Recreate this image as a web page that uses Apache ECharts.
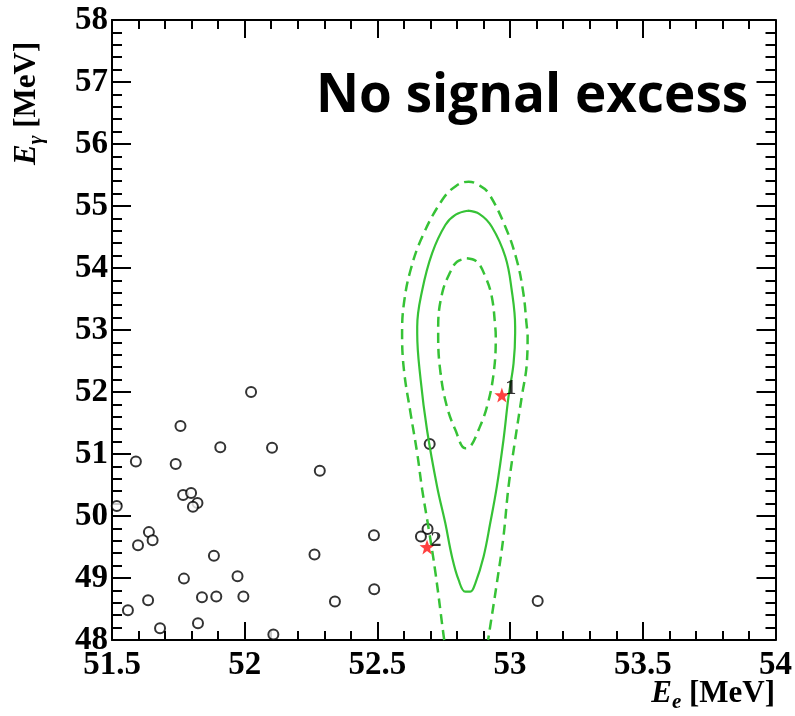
<!DOCTYPE html>
<html>
<head>
<meta charset="utf-8">
<script src="https://cdn.jsdelivr.net/npm/echarts@6/dist/echarts.min.js"></script>
<style>
  html, body { margin: 0; padding: 0; background: #fff; }
  #box { width: 795px; height: 716px; }
</style>
</head>
<body>
<div id="box"></div>
<script>
// 背景事例 (E_e, E_gamma) [MeV]
const eventEe = [52.024, 51.758, 51.908, 52.103, 51.590, 51.740, 52.283, 51.768, 51.798, 51.822,
                 51.805, 51.518, 51.639, 51.653, 51.598, 52.487, 51.884, 52.263, 51.771, 51.973,
                 51.636, 51.839, 51.893, 51.995, 52.488, 52.340, 51.560, 51.824, 51.681, 52.108,
                 52.697, 52.689, 52.664, 53.104];
const eventEg = [52.00, 51.45, 51.11, 51.10, 50.88, 50.84, 50.73, 50.34, 50.37, 50.21,
                 50.15, 50.16, 49.74, 49.61, 49.53, 49.69, 49.36, 49.38, 48.99, 49.03,
                 48.64, 48.69, 48.70, 48.70, 48.82, 48.62, 48.48, 48.27, 48.19, 48.09,
                 51.16, 49.79, 49.67, 48.63];

// 排名事例 (红星)
const rankLabels = ['1', '2'];
const rankEe = [52.969, 52.687];
const rankEg = [51.95, 49.50];

// 信号区域等高线
const solidContour = [
  [52.840, 54.924], [52.885, 54.870], [52.931, 54.666], [52.982, 54.182], [53.006, 53.645],
  [53.019, 53.053], [53.019, 52.947], [53.013, 52.463], [52.994, 51.924], [52.975, 51.226],
  [52.950, 50.473], [52.925, 49.882], [52.900, 49.344], [52.869, 48.915], [52.850, 48.779],
  [52.831, 48.779], [52.806, 48.968], [52.781, 49.344], [52.756, 49.882], [52.725, 50.473],
  [52.687, 51.387], [52.663, 52.194], [52.650, 52.947], [52.650, 53.053], [52.669, 53.645],
  [52.706, 54.237], [52.756, 54.694], [52.795, 54.860], [52.840, 54.924]
];
const outerContour = [
  [52.752, 48.00], [52.750, 48.053], [52.719, 49.076], [52.694, 49.774], [52.669, 50.419],
  [52.650, 51.011], [52.625, 51.656], [52.600, 52.355], [52.593, 52.947], [52.600, 53.431],
  [52.625, 53.968], [52.669, 54.505], [52.744, 55.097], [52.795, 55.320], [52.844, 55.392],
  [52.885, 55.330], [52.919, 55.205], [52.982, 54.666], [53.025, 54.129], [53.050, 53.592],
  [53.063, 53.053], [53.066, 52.947], [53.063, 52.463], [53.044, 51.924], [53.019, 51.226],
  [52.994, 50.473], [52.975, 49.666], [52.950, 48.915], [52.919, 48.053], [52.917, 48.00]
];
const innerContour = [
  [52.837, 54.156], [52.875, 54.100], [52.907, 53.860], [52.931, 53.537], [52.944, 53.053],
  [52.946, 52.892], [52.938, 52.302], [52.913, 51.763], [52.881, 51.387], [52.850, 51.118],
  [52.831, 51.092], [52.794, 51.387], [52.762, 51.763], [52.738, 52.302], [52.729, 52.892],
  [52.729, 53.053], [52.744, 53.592], [52.775, 53.940], [52.800, 54.100], [52.837, 54.156]
];

const green = '#36c236';
const starPath = 'path://M0,-10 L2.35,-3.24 9.51,-3.09 3.8,1.24 5.88,8.09 0,4 -5.88,8.09 -3.8,1.24 -9.51,-3.09 -2.35,-3.24 Z';
const serif = 'Liberation Serif';

let chart = echarts.init(document.getElementById('box'));

function frameAxis(extra) {
  return Object.assign({
    type: 'value',
    axisLine: { show: true, onZero: false, lineStyle: { color: '#000', width: 2 } },
    axisTick: { show: true, inside: true, length: 18, lineStyle: { color: '#000', width: 2 } },
    minorTick: { show: true, splitNumber: 5, length: 9, lineStyle: { color: '#000', width: 2 } },
    splitLine: { show: false },
    axisLabel: { show: false }
  }, extra);
}

const labelStyle = { show: true, color: '#000', fontFamily: serif, fontWeight: 'bold', fontSize: 33 };

const titleRich = {
  e: { fontFamily: serif, fontStyle: 'italic', fontWeight: 'bold', fontSize: 31, lineHeight: 40, fill: '#000' },
  s: { fontFamily: serif, fontStyle: 'italic', fontWeight: 'bold', fontSize: 21, lineHeight: 20, verticalAlign: 'bottom', fill: '#000' },
  u: { fontFamily: serif, fontWeight: 'bold', fontSize: 31, lineHeight: 40, fill: '#000' }
};

let option = {
  backgroundColor: '#fff',
  animation: false,
  grid: { left: 112, right: 17, top: 20, bottom: 76 },
  xAxis: [
    frameAxis({ position: 'bottom', min: 51.5, max: 54, interval: 0.5,
      axisLabel: Object.assign({ margin: 9 }, labelStyle) }),
    frameAxis({ position: 'top', min: 51.5, max: 54, interval: 0.5 })
  ],
  yAxis: [
    frameAxis({ position: 'left', min: 48, max: 58, interval: 1,
      axisTick: { show: true, inside: true, length: 19, lineStyle: { color: '#000', width: 2 } },
      minorTick: { show: true, splitNumber: 5, length: 10, lineStyle: { color: '#000', width: 2 } },
      axisLabel: Object.assign({ margin: 4 }, labelStyle) }),
    frameAxis({ position: 'right', min: 48, max: 58, interval: 1,
      axisTick: { show: true, inside: true, length: 19, lineStyle: { color: '#000', width: 2 } },
      minorTick: { show: true, splitNumber: 5, length: 10, lineStyle: { color: '#000', width: 2 } } })
  ],
  graphic: [
    {
      type: 'text', left: 316, top: 70,
      style: { text: 'No signal excess', fill: '#000', font: 'bold 53px "Open Sans"' }
    },
    {
      type: 'text', right: 20, top: 678,
      style: { text: '{e|E}{s|e}{u| [MeV]}', rich: titleRich }
    },
    {
      type: 'text', x: 7, y: 165, rotation: Math.PI / 2,
      style: { text: '{e|E}{s|γ}{u| [MeV]}', rich: titleRich }
    }
  ],
  series: [
    {
      name: 'outer', type: 'line', showSymbol: false, smooth: 0.4,
      data: outerContour,
      lineStyle: { color: green, width: 2.5, type: [10, 6] }
    },
    {
      name: 'inner', type: 'line', showSymbol: false, smooth: 0.4,
      data: innerContour,
      lineStyle: { color: green, width: 2.5, type: [10, 6] }
    },
    {
      name: 'solid', type: 'line', showSymbol: false, smooth: 0.4,
      data: solidContour,
      lineStyle: { color: green, width: 2.2 }
    },
    {
      name: 'events', type: 'scatter', symbol: 'emptyCircle', symbolSize: 10,
      data: eventEe.map((x, i) => [x, eventEg[i]]),
      itemStyle: { color: '#000', borderColor: '#000', borderWidth: 2 }
    },
    {
      name: 'ranked', type: 'scatter', symbol: starPath, symbolSize: 15, z: 5,
      data: rankEe.map((x, i) => ({ name: rankLabels[i], value: [x, rankEg[i]] })),
      itemStyle: { color: '#ff1010' },
      label: {
        show: true, position: 'right', distance: 0, offset: [-4, -7],
        formatter: '{b}', color: '#000', fontFamily: serif, fontWeight: 'bold', fontSize: 22
      }
    }
  ]
};
chart.setOption(option);
</script>
</body>
</html>
